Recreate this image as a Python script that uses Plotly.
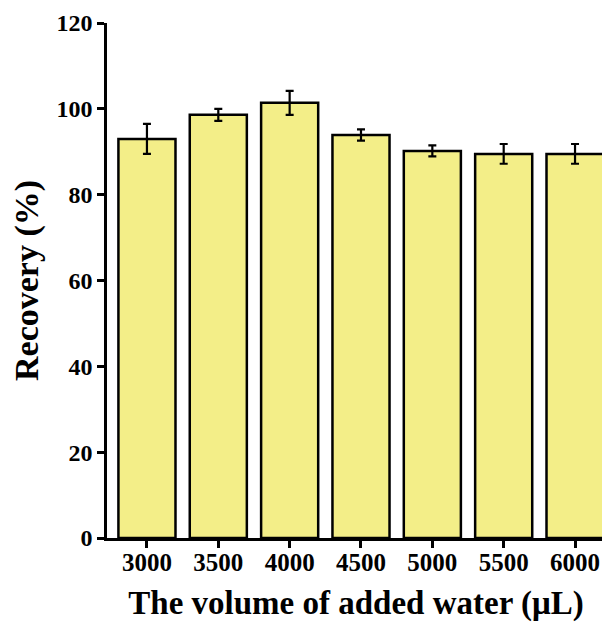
import plotly.graph_objects as go

categories = ["3000", "3500", "4000", "4500", "5000", "5500", "6000"]
recovery = [93.0, 98.6, 101.4, 93.9, 90.2, 89.5, 89.5]
errors = [3.5, 1.4, 2.8, 1.3, 1.3, 2.3, 2.3]
y_ticks = [0, 20, 40, 60, 80, 100, 120]

font_family = "Liberation Serif"

fig = go.Figure()
fig.add_trace(go.Bar(
    x=categories,
    y=recovery,
    width=0.8,
    marker=dict(color="#F3EE88", line=dict(color="black", width=2.5)),
    error_y=dict(type="data", array=errors, visible=True, color="black", thickness=2.2, width=4),
))

fig.update_layout(
    width=602, height=614,
    margin=dict(l=99, r=5, t=15, b=84),
    plot_bgcolor="white", paper_bgcolor="white",
    showlegend=False,
    font=dict(family=font_family, color="black"),
)
fig.update_xaxes(
    type="category",
    range=[-0.56, 6.42],
    automargin=False,
    showline=True, linecolor="black", linewidth=2.5,
    ticks="outside", ticklen=7, tickwidth=2.5, tickcolor="black",
    ticklabelstandoff=-7,
    tickfont=dict(size=25, family=font_family, weight="bold"),
    title=dict(text="<b>The volume of added water (μL)</b>", font=dict(size=33), standoff=25),
    showgrid=False, zeroline=False,
)
fig.update_yaxes(
    range=[0, 120],
    tickvals=y_ticks,
    automargin=False,
    showline=True, linecolor="black", linewidth=2.5,
    ticks="outside", ticklen=7, tickwidth=2.5, tickcolor="black",
    tickfont=dict(size=24, family=font_family, weight="bold"),
    title=dict(text="<b>Recovery (%)</b>", font=dict(size=34), standoff=12),
    showgrid=False, zeroline=False,
)

fig.write_html("out.html")
